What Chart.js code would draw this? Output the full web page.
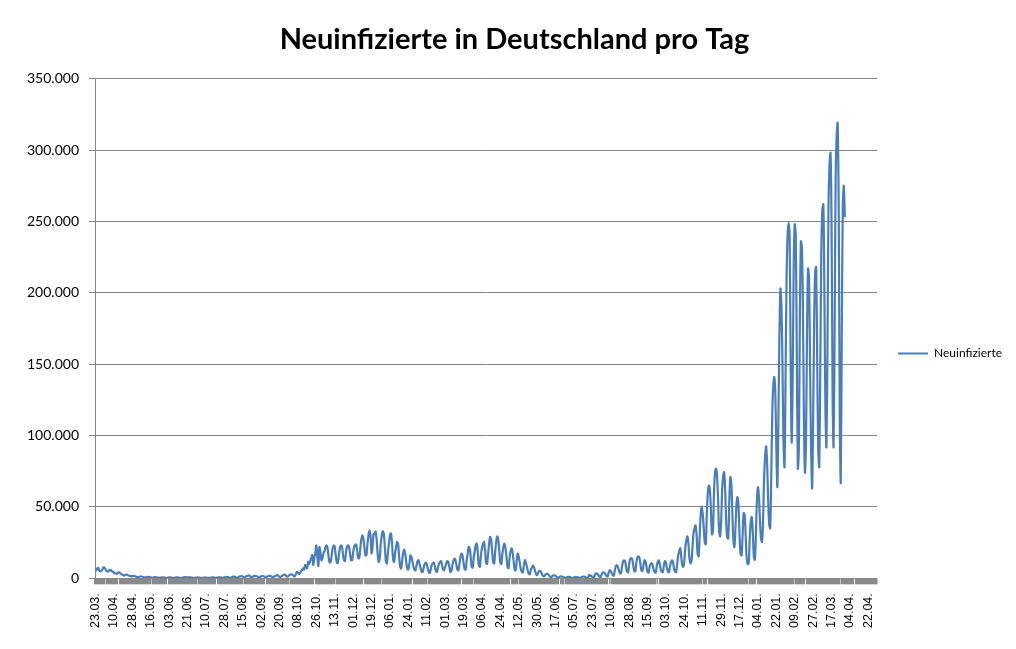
<!DOCTYPE html>
<html>
<head>
<meta charset="utf-8">
<title>Neuinfizierte in Deutschland pro Tag</title>
<script src="https://cdn.jsdelivr.net/npm/chart.js@4.4.0/dist/chart.umd.min.js"></script>
<style>
    html, body { margin: 0; padding: 0; background: #ffffff; }
    canvas { display: block; }
</style>
</head>
<body>
<canvas id="canvasLine" width="1016" height="649"></canvas>
<script>
//Beschriftung der x-Achse, jede 18. Kategorie
var tickLabels = ['23.03.', '10.04.', '28.04.', '16.05.', '03.06.', '21.06.', '10.07.', '28.07.', '15.08.', '02.09.',
    '20.09.', '08.10.', '26.10.', '13.11.', '01.12.', '19.12.', '06.01.', '24.01.', '11.02.', '01.03.',
    '19.03.', '06.04.', '24.04.', '12.05.', '30.05.', '17.06.', '05.07.', '23.07.', '10.08.', '28.08.',
    '15.09.', '03.10.', '24.10.', '11.11.', '29.11.', '17.12.', '04.01.', '22.01.', '09.02.', '27.02.',
    '17.03.', '04.04.', '22.04.'];
var labelEvery = 18;
var categoryCount = 765;

//Werte der y-Achse
var yTickValues = [0, 50000, 100000, 150000, 200000, 250000, 300000, 350000];

//Neuinfizierte pro Tag (7 Werte pro Zeile)
var neuinfizierte = [
    4900, 6000, 7200, 6800, 5000, 4900, 5500,
    6500, 7700, 7200, 6000, 4900, 4600, 5200,
    6000, 5600, 5000, 4400, 3900, 3500, 3400,
    3100, 3800, 4200, 3600, 3000, 2600, 2200,
    1900, 2200, 2600, 2400, 2000, 1700, 1500,
    1200, 1500, 1700, 1600, 1300, 1000, 800,
    700, 1000, 1300, 1200, 1000, 700, 600,
    600, 800, 1000, 900, 800, 600, 500,
    400, 600, 800, 700, 600, 500, 400,
    300, 500, 700, 600, 500, 400, 300,
    300, 400, 600, 600, 500, 350, 250,
    250, 400, 550, 550, 450, 300, 250,
    200, 400, 600, 700, 800, 600, 550,
    550, 650, 600, 500, 450, 300, 250,
    400, 500, 550, 500, 400, 250, 200,
    350, 450, 500, 450, 350, 250, 200,
    400, 500, 550, 600, 450, 300, 250,
    450, 600, 650, 700, 550, 350, 300,
    600, 700, 900, 850, 700, 400, 350,
    700, 1000, 1100, 1100, 900, 500, 450,
    900, 1300, 1400, 1500, 1200, 700, 600,
    1100, 1500, 1700, 2000, 1500, 800, 700,
    1200, 1500, 1600, 1500, 1300, 700, 600,
    1000, 1300, 1500, 1500, 1300, 700, 700,
    1200, 1400, 1700, 1600, 1400, 800, 800,
    1300, 1800, 2000, 2200, 1600, 900, 900,
    1500, 1800, 2400, 2500, 2000, 1200, 1200,
    1800, 2400, 2700, 2600, 2200, 1400, 1400,
    2800, 4400, 4000, 3000, 3500, 5000, 5600,
    7000, 6000, 9300, 8000, 7000, 11600, 10000,
    12000, 14000, 16300, 9300, 14000, 18000, 23000,
    15000, 8600, 21900, 18000, 12600, 14000, 17500,
    19000, 22000, 23000, 21000, 15000, 11000, 11500,
    16000, 21000, 23000, 22000, 16000, 11000, 10700,
    16000, 21000, 23000, 22500, 17000, 12600, 12000,
    18000, 22000, 23000, 22000, 17000, 12600, 12600,
    18000, 22000, 23500, 23600, 19000, 14000, 14000,
    21000, 27000, 30000, 28000, 22000, 16000, 16000,
    24000, 30000, 33600, 30000, 17500, 22000, 31000,
    31000, 32700, 27000, 17000, 11400, 14000, 24000,
    30000, 33000, 31000, 22000, 12000, 10300, 18000,
    24000, 30000, 31500, 25000, 14000, 11400, 17000,
    22000, 25400, 24000, 15000, 8000, 6800, 13000,
    18000, 20000, 17000, 11000, 6500, 6000, 10000,
    16000, 15000, 12000, 8000, 5800, 5600, 9000,
    12000, 12600, 10000, 7000, 4600, 4400, 7500,
    10000, 11000, 10000, 7000, 4200, 3700, 6500,
    9500, 10500, 11000, 8000, 5000, 4400, 7500,
    10000, 11500, 12000, 9000, 6000, 5600, 8000,
    10000, 12000, 11500, 8500, 4400, 4800, 9000,
    12000, 13800, 13000, 9500, 6000, 5500, 10000,
    15000, 17300, 16000, 11000, 6500, 6000, 12000,
    17000, 22000, 21000, 15000, 8000, 7500, 15000,
    19000, 23500, 24300, 17000, 9000, 8000, 16000,
    21000, 24000, 25400, 20000, 11000, 10000, 17000,
    24000, 29000, 27000, 19000, 11000, 10300, 19000,
    26000, 29400, 27000, 19000, 11000, 10000, 17000,
    22000, 24300, 21000, 15000, 8000, 7000, 14000,
    19000, 21000, 18000, 12000, 6000, 5500, 12000,
    17300, 15000, 11000, 6500, 4500, 4000, 9000,
    12600, 11000, 8000, 4800, 3000, 2800, 6500,
    7500, 9000, 7500, 5000, 2800, 2200, 4000,
    5000, 5100, 4000, 2500, 1500, 1300, 2500,
    3000, 3300, 2600, 1600, 900, 800, 1600,
    2000, 2100, 1600, 1000, 600, 500, 1000,
    1300, 1200, 1000, 700, 400, 300, 700,
    1000, 1000, 900, 600, 300, 300, 600,
    900, 1000, 800, 600, 300, 250, 600,
    900, 1200, 1100, 800, 400, 400, 1000,
    2300, 2000, 1600, 900, 600, 1500, 3000,
    3500, 3000, 2000, 1100, 900, 2500, 3800,
    4200, 3800, 2600, 1400, 1200, 4000, 5600,
    5000, 3500, 2000, 1800, 5500, 8500, 9100,
    8000, 5500, 3500, 3500, 8000, 11500, 12600,
    12000, 8000, 4500, 4200, 9500, 13500, 14200,
    13500, 9000, 5000, 4800, 10500, 14500, 15400,
    14500, 10000, 5500, 5000, 9000, 12600, 12000,
    8000, 4500, 4000, 8000, 10000, 10500, 9000,
    6000, 4200, 4000, 8500, 11500, 12600, 10000,
    6000, 4500, 4300, 9000, 12000, 11000, 7000,
    4500, 4200, 8500, 11500, 12600, 11000, 6500,
    4500, 4300, 10000, 16000, 19000, 21000, 15000,
    9000, 8000, 12000, 22000, 27000, 29400, 24000,
    14000, 10500, 12000, 22000, 32000, 35000, 37000,
    30000, 17000, 15400, 30000, 45000, 50400, 45000,
    35000, 25000, 23800, 45000, 60000, 65000, 62000,
    48000, 30800, 33000, 60000, 74000, 76800, 72000,
    55000, 33000, 29400, 40000, 62000, 72000, 74400,
    60000, 38000, 28500, 27800, 55000, 70900, 66000,
    45000, 26000, 21900, 35000, 52000, 56900, 50000,
    30000, 17000, 16100, 30000, 45700, 44000, 30000,
    14000, 9800, 10500, 28000, 40000, 42900, 32000,
    15000, 13000, 30000, 55000, 63900, 57000, 40000,
    28000, 25400, 40000, 70000, 85000, 92400, 80000,
    55000, 38000, 35000, 70000, 115000, 135000, 141000,
    130000, 90000, 64000, 110000, 170000, 203000, 190000,
    150000, 95000, 78000, 140000, 210000, 240000, 249000,
    240000, 150000, 95000, 140000, 220000, 248000, 240000,
    160000, 77000, 90000, 180000, 236000, 232000, 190000,
    110000, 74000, 95000, 170000, 217000, 210000, 150000,
    90000, 63000, 110000, 180000, 215000, 218000, 150000,
    90000, 78000, 150000, 230000, 258000, 262000, 200000,
    120000, 92000, 160000, 260000, 290000, 298000, 250000,
    130000, 92000, 170000, 280000, 310000, 319000, 260000,
    120000, 67000, 170000, 260000, 275000, 253000
];

//Kategorien: nur jede 18. bekommt eine Beschriftung
var categories = [];
for (var i = 0; i < categoryCount; i++) {
    categories.push(i % labelEvery === 0 ? tickLabels[i / labelEvery] : '');
}

function formatDe(value) {//350000 -> 350.000
    return String(value).replace(/\B(?=(\d{3})+(?!\d))/g, '.');
}

var gridGray = '#868686';

var config = {
    type: 'line',
    data: {
        labels: categories,
        datasets: [{
            label: 'Neuinfizierte',
            data: neuinfizierte,
            borderColor: '#4a7ebb',
            backgroundColor: '#4a7ebb',
            borderWidth: 2.2,
            pointRadius: 0,
            tension: 0.3,
            fill: false
        }]
    },
    options: {
        responsive: false,
        animation: false,
        events: [],
        layout: {
            padding: { left: 17, right: 4, top: 0, bottom: 12 }
        },
        plugins: {
            title: {
                display: true,
                text: 'Neuinfizierte in Deutschland pro Tag',
                color: '#000000',
                font: { family: 'Lato', size: 29, weight: 'bold' },
                padding: { top: 22, bottom: 22 }
            },
            legend: {
                position: 'right',
                fullSize: false,
                title: {//leerer Titel, schiebt den Eintrag nach unten
                    display: true,
                    text: ' ',
                    font: { size: 10 },
                    padding: { top: 0, bottom: 38 }
                },
                labels: {
                    usePointStyle: true,
                    pointStyle: 'line',
                    pointStyleWidth: 30,
                    padding: 21,
                    color: '#000000',
                    font: { family: 'Lato', size: 12 }
                }
            },
            tooltip: { enabled: false }
        },
        scales: {
            x: {
                offset: true,
                grid: {
                    display: true,
                    offset: true,
                    drawOnChartArea: false,
                    drawTicks: true,
                    tickLength: 6,
                    lineWidth: 1.5,
                    color: function (c) {
                        return (c.index - 23) % 48 === 0 ? '#ffffff' : '#8a8a8a';
                    }
                },
                border: { display: true, color: gridGray },
                ticks: {
                    autoSkip: false,
                    minRotation: 90,
                    maxRotation: 90,
                    padding: 9,
                    color: '#000000',
                    font: { family: 'Liberation Sans', size: 12.5 }
                }
            },
            y: {
                min: yTickValues[0],
                max: yTickValues[yTickValues.length - 1],
                grid: { color: gridGray, tickLength: 6 },
                border: { display: true, color: gridGray },
                ticks: {
                    stepSize: yTickValues[1] - yTickValues[0],
                    padding: 10,
                    color: '#000000',
                    font: { family: 'Lato', size: 14 },
                    callback: function (value) {
                        return formatDe(value);
                    }
                }
            }
        }
    }
};

window.myLine = new Chart(document.getElementById('canvasLine'), config);
</script>
</body>
</html>
